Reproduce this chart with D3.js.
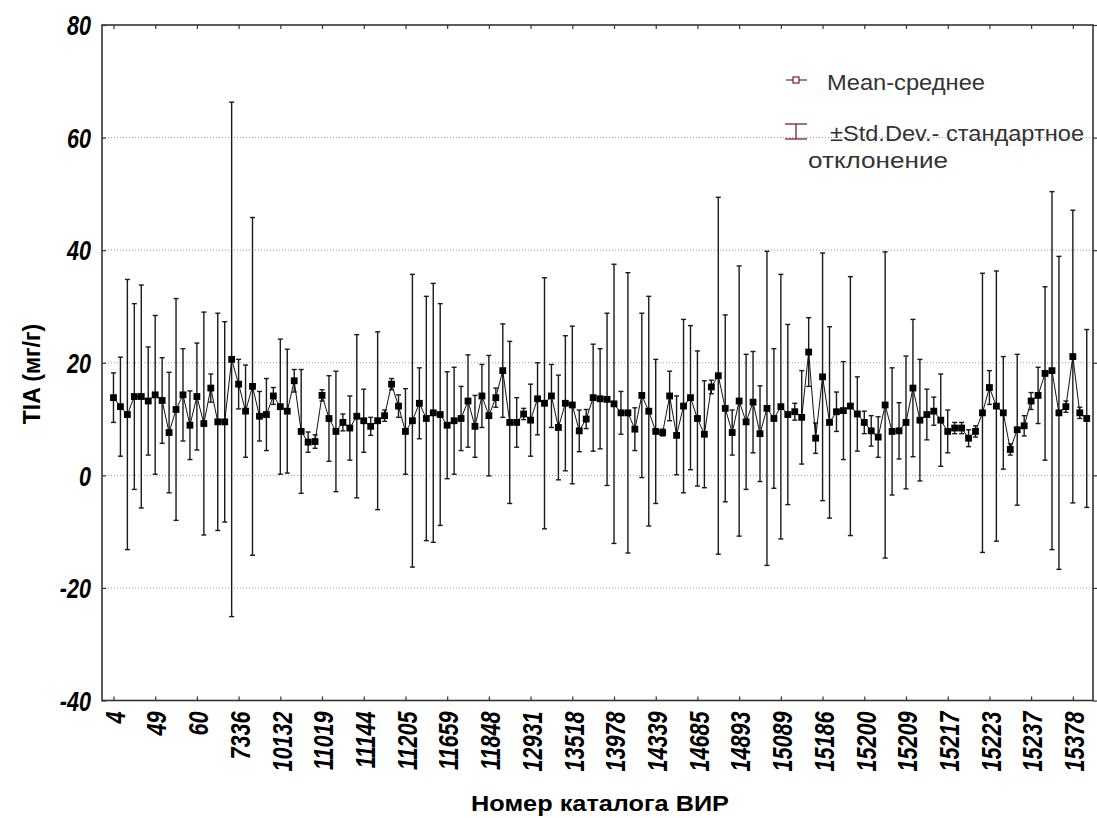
<!DOCTYPE html>
<html><head><meta charset="utf-8">
<script src="https://cdn.jsdelivr.net/npm/d3@7/dist/d3.min.js"></script>
<style>
html,body{margin:0;padding:0;background:#fff;}
svg{display:block;}
</style></head>
<body><svg id="chart" width="1097" height="818"></svg>
<script>
// ---- data ----
const tickLabels = ["4","49","60","7336","10132","11019","11144","11205","11659","11848","12931","13518","13978","14339","14685","14893","15089","15186","15200","15209","15217","15223","15237","15378"];
const labelEvery = 6;
const means = [13.8,12.2,10.8,14.0,14.0,13.2,14.3,13.3,7.6,11.7,14.3,8.9,14.0,9.2,15.5,9.5,9.5,20.6,16.2,11.4,
15.8,10.5,10.8,14.1,12.2,11.4,16.8,7.8,5.9,6.0,14.2,10.1,7.8,9.4,8.4,10.5,9.7,8.7,9.7,10.6,
16.2,12.3,7.8,9.7,12.8,10.1,11.1,10.8,8.9,9.7,10.1,13.2,8.7,14.1,10.6,13.8,18.6,9.4,9.4,10.9,
9.8,13.6,12.8,14.1,8.5,12.8,12.5,7.9,10.0,13.8,13.6,13.5,12.7,11.1,11.1,8.2,14.2,11.4,7.8,7.6,
14.1,7.1,12.3,13.8,10.1,7.3,15.7,17.7,11.9,7.6,13.2,9.5,13.0,7.4,11.9,10.1,12.2,10.8,11.3,10.3,
21.9,6.6,17.5,9.4,11.3,11.5,12.3,10.9,9.4,7.9,6.8,12.5,7.8,7.9,9.4,15.5,9.8,10.8,11.4,9.8,
7.8,8.4,8.4,6.6,7.8,11.1,15.6,12.3,11.1,4.6,8.1,8.8,13.2,14.2,18.1,18.6,11.1,12.2,21.1,11.1,10.1];
const sds = [4.4,8.8,24.0,16.5,19.8,9.6,14.1,7.6,10.7,19.7,8.2,6.1,9.5,19.8,2.5,19.3,17.8,45.7,4.4,8.2,
30.0,4.4,6.4,1.5,12.0,11.0,2.0,11.0,1.8,1.2,1.0,7.6,10.7,1.5,5.7,14.5,5.6,1.6,15.8,1.0,
1.0,2.0,7.6,26.0,6.3,21.7,23.0,19.7,9.5,9.5,5.7,8.2,5.5,5.6,10.7,1.7,8.3,14.4,4.4,1.0,
6.4,6.4,22.3,5.6,9.3,12.0,14.0,3.7,1.7,9.5,8.9,15.3,24.8,3.8,24.9,3.8,14.6,20.4,12.8,0.6,
4.4,7.0,15.4,12.8,12.0,9.5,1.2,31.7,16.6,4.0,24.0,12.0,9.0,8.5,27.9,12.4,23.5,16.0,1.5,8.3,
6.1,2.7,22.0,17.0,3.5,8.7,23.0,6.6,2.0,2.7,3.6,27.2,11.3,5.0,11.8,12.2,10.8,4.5,2.5,8.2,
3.8,1.0,1.0,1.5,1.0,24.8,3.0,24.0,10.0,1.0,13.4,1.8,1.5,5.0,15.4,31.8,27.8,1.0,26.0,1.0,15.8];
const yTicks = [-40,-20,0,20,40,60,80];
const gridVals = [-20,0,20,40,60];
const yTitle = "TIA (мг/г)";
const xTitle = "Номер каталога ВИР";
const legendMean = "Mean-среднее";
const legendSd1 = "±Std.Dev.- стандартное";
const legendSd2 = "отклонение";

// ---- layout ----
const svg = d3.select("#chart");
const L = 102, R = 1093, T = 25, B = 700.5;
const n = means.length;
const x = d3.scaleLinear().domain([-1.65, n - 0.1]).range([L, R]);
const y = d3.scaleLinear().domain([-40, 80]).range([B, T]);
const tickIdx = tickLabels.map((d, i) => i * labelEvery);
const narrow = 0.8;
const font = "'Liberation Sans', Arial, sans-serif";

// gridlines
svg.append("g").selectAll("line").data(gridVals).join("line")
  .attr("x1", L).attr("x2", R).attr("y1", d => y(d)).attr("y2", d => y(d))
  .attr("stroke", "#9a9a9a").attr("stroke-width", 1).attr("stroke-dasharray", "1,2");

// axes
const fmt = i => tickLabels[tickIdx.indexOf(i)];
const gx = svg.append("g").attr("transform", `translate(0,${B})`)
  .call(d3.axisBottom(x).tickValues(tickIdx).tickSize(-4).tickPadding(0).tickFormat(fmt));
gx.select(".domain").remove();
gx.selectAll(".tick line").attr("stroke", "#333").attr("stroke-width", 1.2);
gx.selectAll(".tick text")
  .attr("x", 0).attr("y", 0).attr("dy", "0.36em")
  .attr("text-anchor", "end")
  .attr("transform", `translate(1,11) rotate(-90) scale(${narrow},1)`)
  .attr("font-family", font).attr("font-weight", "bold").attr("font-style", "italic")
  .attr("font-size", 27).attr("fill", "#000");

const gxt = svg.append("g").attr("transform", `translate(0,${T})`)
  .call(d3.axisTop(x).tickValues(tickIdx).tickSize(-4).tickFormat(""));
gxt.select(".domain").remove();
gxt.selectAll(".tick line").attr("stroke", "#333").attr("stroke-width", 1.2);

const gy = svg.append("g").attr("transform", `translate(${L},0)`)
  .call(d3.axisLeft(y).tickValues(yTicks).tickSize(-4).tickPadding(12).tickFormat(d => String(d)));
gy.select(".domain").remove();
gy.selectAll(".tick line").attr("stroke", "#333").attr("stroke-width", 1.2);
gy.selectAll(".tick text")
  .attr("x", 0).attr("dy", "0.36em")
  .attr("transform", `translate(-11,0) scale(${narrow},1)`)
  .attr("font-family", font).attr("font-weight", "bold").attr("font-style", "italic")
  .attr("font-size", 27).attr("fill", "#000");

const gyr = svg.append("g").attr("transform", `translate(${R},0)`)
  .call(d3.axisRight(y).tickValues(yTicks).tickSize(4).tickFormat(""));
gyr.select(".domain").remove();
gyr.selectAll(".tick line").attr("stroke", "#333").attr("stroke-width", 1.2);

// frame
svg.append("rect").attr("x", L).attr("y", T).attr("width", R - L).attr("height", B - T)
  .attr("fill", "none").attr("stroke", "#333").attr("stroke-width", 1.6);

// error bars
const idx = d3.range(n);
const eb = svg.append("g").attr("stroke", "#1a1a1a").attr("stroke-width", 1.4);
eb.selectAll("line.v").data(idx).join("line").attr("class", "v")
  .attr("x1", i => x(i)).attr("x2", i => x(i))
  .attr("y1", i => y(means[i] + sds[i])).attr("y2", i => y(means[i] - sds[i]));
eb.selectAll("line.t").data(idx).join("line").attr("class", "t")
  .attr("x1", i => x(i) - 2.5).attr("x2", i => x(i) + 2.5)
  .attr("y1", i => y(means[i] + sds[i])).attr("y2", i => y(means[i] + sds[i]));
eb.selectAll("line.b").data(idx).join("line").attr("class", "b")
  .attr("x1", i => x(i) - 2.5).attr("x2", i => x(i) + 2.5)
  .attr("y1", i => y(means[i] - sds[i])).attr("y2", i => y(means[i] - sds[i]));

// mean line
svg.append("path").datum(idx)
  .attr("d", d3.line().x(i => x(i)).y(i => y(means[i])))
  .attr("fill", "none").attr("stroke", "#111").attr("stroke-width", 1);

// markers
svg.append("g").selectAll("rect").data(idx).join("rect")
  .attr("x", i => x(i) - 3.4).attr("y", i => y(means[i]) - 3.4)
  .attr("width", 6.8).attr("height", 6.8).attr("fill", "#000");

// titles
svg.append("text").attr("transform", "translate(40,374) rotate(-90)")
  .attr("text-anchor", "middle").attr("font-family", font)
  .attr("font-weight", "bold").attr("font-size", 23).attr("fill", "#000").text(yTitle);
svg.append("text").attr("x", 600).attr("y", 811)
  .attr("text-anchor", "middle").attr("font-family", font)
  .attr("font-weight", "bold").attr("font-size", 22).attr("fill", "#000")
  .attr("textLength", 258).attr("lengthAdjust", "spacingAndGlyphs").text(xTitle);

// legend
const lc = "#7a2030";
const lg = svg.append("g");
lg.append("line").attr("x1", 786).attr("x2", 807).attr("y1", 80).attr("y2", 80)
  .attr("stroke", lc).attr("stroke-width", 1.2);
lg.append("rect").attr("x", 793).attr("y", 77).attr("width", 6).attr("height", 6)
  .attr("fill", "#fff").attr("stroke", lc).attr("stroke-width", 1.2);
lg.append("text").attr("x", 827).attr("y", 90).attr("font-family", font)
  .attr("font-size", 22).attr("fill", "#333")
  .attr("textLength", 158).attr("lengthAdjust", "spacingAndGlyphs").text(legendMean);
lg.append("line").attr("x1", 785).attr("x2", 807).attr("y1", 124).attr("y2", 124).attr("stroke", lc).attr("stroke-width", 1.3);
lg.append("line").attr("x1", 785).attr("x2", 807).attr("y1", 139).attr("y2", 139).attr("stroke", lc).attr("stroke-width", 1.3);
lg.append("line").attr("x1", 796).attr("x2", 796).attr("y1", 124).attr("y2", 139).attr("stroke", lc).attr("stroke-width", 1.3);
lg.append("text").attr("x", 830).attr("y", 141).attr("font-family", font)
  .attr("font-size", 22).attr("fill", "#333")
  .attr("textLength", 254).attr("lengthAdjust", "spacingAndGlyphs").text(legendSd1);
lg.append("text").attr("x", 808).attr("y", 168).attr("font-family", font)
  .attr("font-size", 22).attr("fill", "#333")
  .attr("textLength", 140).attr("lengthAdjust", "spacingAndGlyphs").text(legendSd2);
</script>
</body></html>
